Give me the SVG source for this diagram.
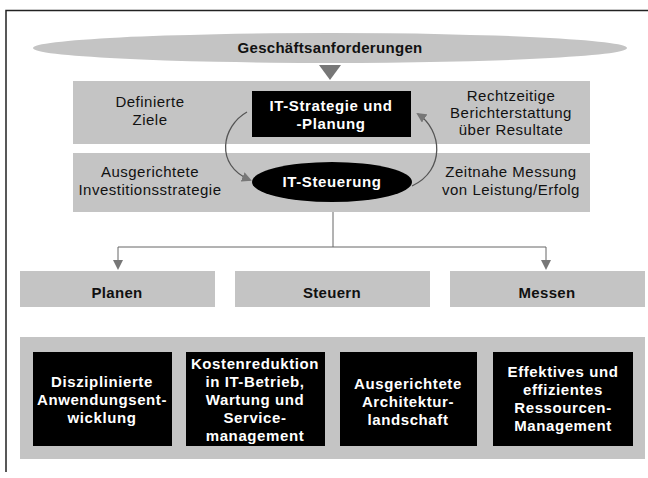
<svg xmlns="http://www.w3.org/2000/svg" width="648" height="478" viewBox="0 0 648 478">
<style>
.band{fill:#c4c4c4}
.blk{fill:#000}
.t{font-family:"Liberation Sans",Arial,sans-serif;font-size:15px;letter-spacing:0.5px;fill:#111;text-anchor:middle}
.tb{font-family:"Liberation Sans",Arial,sans-serif;font-size:15px;font-weight:bold;letter-spacing:0.3px;fill:#111;text-anchor:middle}
.tw{font-family:"Liberation Sans",Arial,sans-serif;font-size:15px;font-weight:bold;letter-spacing:0.6px;fill:#fff;text-anchor:middle}
.conn{fill:none;stroke:#666;stroke-width:1}
.arc{fill:none;stroke:#555;stroke-width:1.3}
</style>
<defs>
<marker id="ah" markerWidth="10" markerHeight="10" refX="8" refY="5" orient="auto" markerUnits="userSpaceOnUse">
<path d="M0,0 L10,5 L0,10 z" fill="#777"/>
</marker>
</defs>
<rect width="648" height="478" fill="#fff"/>
<path d="M6,472 V10.5 H648" fill="none" stroke="#222" stroke-width="1.5"/>

<g id="geschaeft">
<ellipse cx="330" cy="48" rx="297" ry="15" class="band"/>
<text x="330" y="53" class="tb">Geschäftsanforderungen</text>
<path d="M319,65 L341,65 L330,80 z" fill="#777"/>
</g>

<g id="band1">
<rect x="73" y="81" width="517" height="63" class="band"/>
<text class="t" x="150" y="107">Definierte</text>
<text class="t" x="150" y="125">Ziele</text>
<text class="t" x="511" y="101">Rechtzeitige</text>
<text class="t" x="511" y="118">Berichterstattung</text>
<text class="t" x="511" y="135">über Resultate</text>
</g>

<g id="band2">
<rect x="73" y="153" width="517" height="59" class="band"/>
<text class="t" x="150" y="177">Ausgerichtete</text>
<text class="t" x="150" y="195">Investitionsstrategie</text>
<text class="t" x="511" y="177">Zeitnahe Messung</text>
<text class="t" x="511" y="195">von Leistung/Erfolg</text>
</g>

<g id="strategie">
<rect x="252" y="91" width="159" height="46" class="blk"/>
<text class="tw" x="331" y="111">IT-Strategie und</text>
<text class="tw" x="331" y="129">-Planung</text>
</g>

<g id="steuerung">
<ellipse cx="332" cy="182" rx="80" ry="20" class="blk"/>
<text class="tw" x="332" y="187">IT-Steuerung</text>
</g>

<g id="connectors">
<path class="arc" d="M247,112 C222,126 214,165 250,180" marker-end="url(#ah)"/>
<path class="arc" d="M412,186 C446,170 442,130 418,114" marker-end="url(#ah)"/>
<path class="conn" d="M333,212 V247 H118 V268" marker-end="url(#ah)"/>
<path class="conn" d="M333,247 H546 V268" marker-end="url(#ah)"/>
</g>

<g id="planen">
<rect x="20" y="271" width="195" height="36" class="band"/>
<text class="tb" x="117" y="298">Planen</text>
</g>
<g id="steuern">
<rect x="235" y="271" width="195" height="36" class="band"/>
<text class="tb" x="332" y="298">Steuern</text>
</g>
<g id="messen">
<rect x="450" y="271" width="195" height="36" class="band"/>
<text class="tb" x="547" y="298">Messen</text>
</g>

<g id="band3">
<rect x="20" y="337" width="625" height="122" class="band"/>
</g>

<g id="box1">
<rect x="33" y="352" width="139" height="94" class="blk"/>
<text class="tw" x="102" y="387">Disziplinierte</text>
<text class="tw" x="102" y="405">Anwendungsent-</text>
<text class="tw" x="102" y="423">wicklung</text>
</g>
<g id="box2">
<rect x="186" y="352" width="139" height="94" class="blk"/>
<text class="tw" x="255" y="369">Kostenreduktion</text>
<text class="tw" x="255" y="387">in IT-Betrieb,</text>
<text class="tw" x="255" y="405">Wartung und</text>
<text class="tw" x="255" y="423">Service-</text>
<text class="tw" x="255" y="441">management</text>
</g>
<g id="box3">
<rect x="340" y="352" width="137" height="94" class="blk"/>
<text class="tw" x="408" y="389">Ausgerichtete</text>
<text class="tw" x="408" y="407">Architektur-</text>
<text class="tw" x="408" y="425">landschaft</text>
</g>
<g id="box4">
<rect x="493" y="352" width="140" height="94" class="blk"/>
<text class="tw" x="563" y="377">Effektives und</text>
<text class="tw" x="563" y="395">effizientes</text>
<text class="tw" x="563" y="413">Ressourcen-</text>
<text class="tw" x="563" y="431">Management</text>
</g>
</svg>
